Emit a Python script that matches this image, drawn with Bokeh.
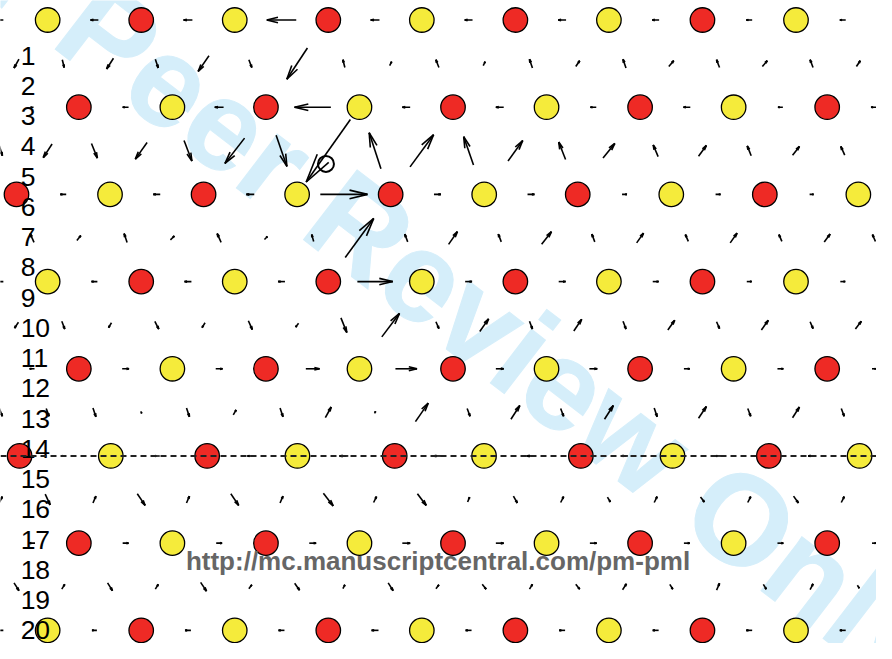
import math
from bokeh.plotting import figure
from bokeh.models import Range1d, Span
from bokeh.embed import file_html
from bokeh.resources import INLINE
from bokeh.core.properties import value

# ---------------- data (lattice units: x = column, y = half-row) ----------------
layer_names = ["A", "B", "C", "A", "B", "C", "B", "A"]      # stacking, top to bottom
layer_rows = [0, 2, 4, 6, 8, 10, 12, 14]
layer_offset = {"A": 1.0, "B": 5 / 3, "C": 1 / 3}
layer_first = ["Y", "R", "R", "Y", "R", "R", "R", "Y"]
layer_count = [9, 9, 10, 9, 9, 10, 9, 9]
twin_row = 10
twin_layer_x = [0.40, 2.35, 4.41, 6.34, 8.42, 10.33, 12.40, 14.36, 16.42, 18.36]
core_x, core_y = 6.95, 3.30

row_labels = [str(i) for i in range(1, 21)]
url_text = "http://mc.manuscriptcentral.com/pm-pml"
watermark_text = "For Peer Review Only"

# displacement arrows (u, v) per half-row, v downward
d0 = [(-5, 0), (-8, 0), (-9, 0), (-30, 0), (-9, 0), (-8, 0), (-8, 0), (-7, 0), (-6, 0), (-6, 0)]
d1 = [(-5, 9), (2, 8), (-7, 11), (3, 9), (-11, 16), (3, 8), (-21, 32), (-2, -8), (2, -4), (-3, -8),
      (2, -4), (-3, -9), (4, -6), (-3, -9), (5, -6), (-3, -8), (5, -6), (-3, -8), (4, -6)]
d2 = [(-3, 0), (-6, 0), (-9, 0), (-37, 0), (-8, 0), (-8, 0), (-6, 0), (-7, 0), (-5, 0), (-6, 0)]
d3 = [(3, 10), (-9, 14), (6, 15), (-12, 17), (8, 21), (-20, 26), (11, 32), (-45, 64), (-12, -37), (24, -33),
      (-10, -29), (15, -21), (-7, -18), (12, -15), (-5, -12), (8, -11), (-4, -10), (7, -9), (-4, -9)]
d4 = [(-6, 0), (-7, 0), (-8, 0), (48, 0), (7, 0), (7, 0), (5, 0), (5, 0), (4, 0)]
d5 = [(-4, -9), (4, -5), (-3, -9), (4, -4), (-4, -9), (3, -3), (-2, -7), (29, -40), (-3, -8), (9, -13),
      (-3, -8), (10, -13), (-3, -8), (7, -10), (-3, -7), (7, -10), (-3, -7), (6, -8), (-3, -7)]
d6 = [(-5, 0), (-6, 0), (-7, 0), (-7, 0), (36, 0), (7, 0), (7, 0), (6, 0), (5, 0), (5, 0)]
d7 = [(-4, 6), (3, 8), (-3, 5), (4, 8), (-3, 5), (4, 9), (-3, 4), (6, 15), (18, -24), (3, 7),
      (9, -13), (3, 8), (8, -12), (3, 8), (7, -10), (3, 7), (7, -10), (3, 7), (6, -8)]
d8 = [(-5, 0), (7, 0), (7, 0), (14, 0), (22, 0), (8, 0), (8, 0), (6, 0), (6, 0), (4, 0)]
d9 = [(3, 8), (3, 8), (3, 9), (1, 2), (3, 9), (3, -5), (3, 9), (6, -11), (1, -2), (13, -19),
      (3, 8), (9, -14), (3, 8), (9, -14), (3, 9), (8, -12), (3, 8), (7, -11), (3, 8)]
d10 = [(-4, 0), (-6, 0), (-6, 0), (-9, 0), (-8, 0), (-9, 0), (-7, 0), (-6, 0), (-7, 0)]
d11 = [(3, -6), (5, 11), (3, -7), (8, 12), (3, -7), (8, 12), (3, -7), (10, 13), (3, -6), (9, 12),
       (2, -5), (4, 7), (3, -6), (3, 5), (3, -6), (4, 5), (3, -6), (5, 7), (3, -6)]
d12 = [(-6, 0), (6, 0), (6, 0), (7, 0), (8, 0), (8, 0), (7, 0), (6, 0), (6, 0), (4, 0)]
d13 = [(5, 8), (3, -5), (5, 8), (3, -5), (6, 9), (3, -4), (5, 7), (2, -4), (5, 8), (3, -4),
       (4, 5), (3, -5), (4, 5), (4, -6), (3, 5), (3, -7), (3, 5), (3, -6), (2, 3)]
d14 = [(-5, 0), (-5, 0), (-6, 0), (-6, 0), (-7, 0), (-6, 0), (-6, 0), (-6, 0), (-6, 0), (-6, 0)]

arrow_rows = [
    (0, 0.0, 2, d0), (1, 1 / 3, 1, d1), (2, 2 / 3, 2, d2), (3, 0.0, 1, d3), (4, 4 / 3, 2, d4),
    (5, 2 / 3, 1, d5), (6, 0.0, 2, d6), (7, 1 / 3, 1, d7), (8, 2 / 3, 2, d8), (9, 0.0, 1, d9),
    (10, 4 / 3, 2, d10), (11, 0.0, 1, d11), (12, 2 / 3, 2, d12), (13, 1 / 3, 1, d13), (14, 0.0, 2, d14),
]

# ---------------- layout ----------------
SX, SY = 47.625, 44.68          # reference px per lattice unit
REF_W, REF_H = 892, 659
W, H = 876, 643
RED, YEL = "#EE2A25", "#F5EB3B"
WM = "#D5EEFA"

p = figure(width=W, height=H, output_backend="svg", toolbar_location=None,
           x_range=Range1d(-0.4 / SX, (REF_W - 0.4) / SX),
           y_range=Range1d((REF_H - 20) / SY, -20 / SY),
           x_axis_location=None, y_axis_location=None, min_border=0,
           background_fill_color="white", border_fill_color="white")
p.outline_line_color = None
p.grid.visible = False

# watermark
wm_x = (412.7 - 0.4) / SX
wm_y = (268.0 - 20) / SY
p.text(x=[wm_x], y=[wm_y], text=[watermark_text], angle=math.radians(-37.5),
       text_font=value("Liberation Sans"), text_font_style="bold", text_font_size="128px",
       text_color=WM, text_outline_color=WM, text_align="center", text_baseline="alphabetic")

# atoms
ax, ay, ac = [], [], []
for name, row, first, n in zip(layer_names, layer_rows, layer_first, layer_count):
    xs = twin_layer_x if row == twin_row else [layer_offset[name] + 2 * k for k in range(n)]
    for k, x in enumerate(xs):
        ax.append(x)
        ay.append(row)
        col = first if k % 2 == 0 else ("R" if first == "Y" else "Y")
        ac.append(RED if col == "R" else YEL)
p.scatter(x=ax, y=ay, size=24.5, fill_color=ac, line_color="black", line_width=1.3)

# arrows (centered on sites, MATLAB-like open heads)
alpha, beta = 0.38, 0.24
sx0, sy0, sx1, sy1 = [], [], [], []
for row, first, step, vecs in arrow_rows:
    for k, (u, v) in enumerate(vecs):
        cx = (first + step * k) * SX
        cy = row * SY
        tx, ty = cx - u / 2, cy - v / 2
        hx, hy = cx + u / 2, cy + v / 2
        b1 = (hx - alpha * (u + beta * v), hy - alpha * (v - beta * u))
        b2 = (hx - alpha * (u - beta * v), hy - alpha * (v + beta * u))
        for (ax_, ay_), (bx_, by_) in [((tx, ty), (hx, hy)), (b1, (hx, hy)), (b2, (hx, hy))]:
            sx0.append(ax_ / SX); sy0.append(ay_ / SY)
            sx1.append(bx_ / SX); sy1.append(by_ / SY)
p.segment(x0=sx0, y0=sy0, x1=sx1, y1=sy1, line_color="black", line_width=1.6)

# defect core marker
p.scatter(x=[core_x], y=[core_y], size=16, fill_color=None, line_color="black", line_width=2)

# twin boundary
p.add_layout(Span(location=twin_row, dimension="width", line_color="#222222",
                  line_width=2, line_dash="6 4"))

# row labels
lab_x = [(20.5 - 0.4) / SX] * len(row_labels)
lab_y = [(36.5 + 31.0 * i) / SY for i in range(len(row_labels))]
p.text(x=lab_x, y=lab_y, text=row_labels, text_font=value("Liberation Sans"),
       text_font_size="26.5px", text_color="black", text_align="left", text_baseline="alphabetic")

# url
p.text(x=[(445.5 - 0.4) / SX], y=[(574.5 - 20) / SY], text=[url_text],
       text_font=value("Liberation Sans"), text_font_style="bold", text_font_size="26px",
       text_color="#666666", text_align="center", text_baseline="alphabetic")

open("out.html", "w").write(file_html(p, INLINE))
